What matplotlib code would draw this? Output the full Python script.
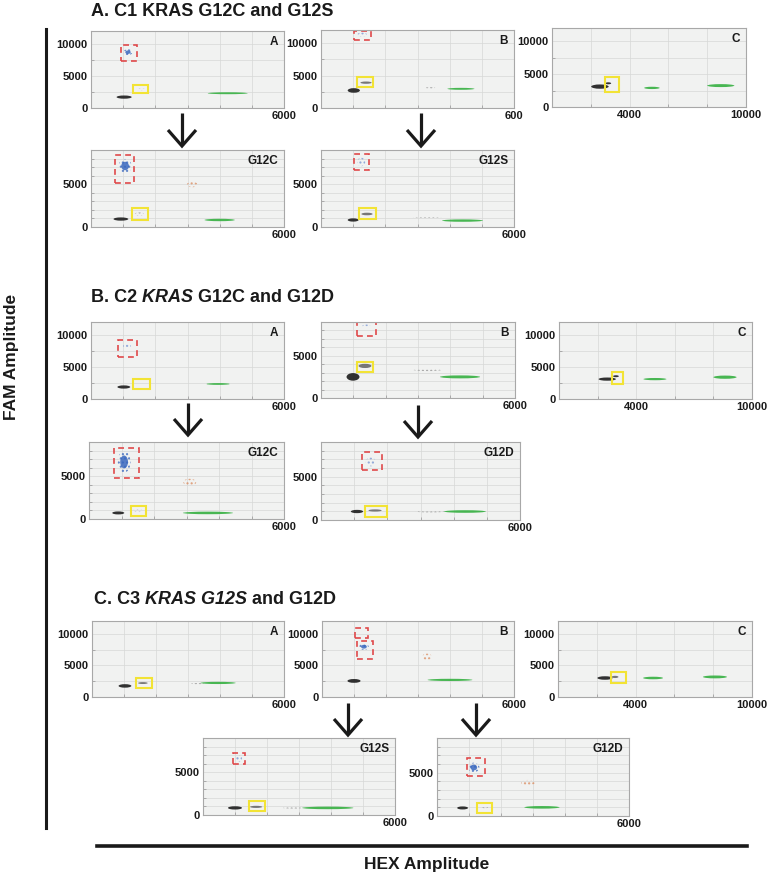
import matplotlib
matplotlib.use('Agg')
import matplotlib.pyplot as plt
from matplotlib.patches import Ellipse, Rectangle
from matplotlib.lines import Line2D
from matplotlib.ticker import MultipleLocator

plt.rcParams['font.family'] = ['Liberation Sans', 'DejaVu Sans']
plt.rcParams['hatch.linewidth'] = 1.0

W, H = 771, 876

# droplet clusters: (HEX amplitude, FAM amplitude, HEX spread, FAM spread, kind)
# kinds: neg = double negative, hex = HEX+ (wild type), fam = FAM+ (mutant),
#        dbl = FAM+/HEX+, rain / fam_rain / dbl_rain = scattered droplets
c1_a = [(1030, 1700, 470, 500, 'neg'), (1150, 8700, 280, 900, 'fam'),
        (4250, 2300, 1240, 300, 'hex'), (1550, 2900, 300, 300, 'rain')]
c1_b = [(1020, 2700, 380, 700, 'neg'), (1400, 3900, 350, 350, 'dbl'),
        (4350, 2950, 840, 300, 'hex'), (3400, 3100, 300, 200, 'rain'),
        (1280, 11300, 300, 600, 'fam_rain')]
c1_c = [(2470, 3100, 900, 650, 'neg'), (2900, 3600, 300, 300, 'neg'),
        (5150, 2900, 800, 350, 'hex'), (8700, 3250, 1400, 450, 'hex')]
c1_g12c = [(930, 930, 460, 380, 'neg'), (1060, 7130, 400, 1650, 'fam'),
           (4000, 820, 940, 280, 'hex'), (3150, 4950, 350, 600, 'dbl_rain'),
           (1500, 1500, 300, 400, 'rain')]
c1_g12s = [(1000, 820, 340, 380, 'neg'), (1430, 1520, 350, 300, 'dbl'),
           (3300, 1050, 900, 200, 'rain'), (4400, 750, 1270, 280, 'hex'),
           (1250, 7600, 250, 1000, 'fam_rain')]

c2_a = [(1020, 1870, 400, 500, 'neg'), (1120, 8250, 250, 500, 'fam_rain'),
        (3950, 2340, 720, 280, 'hex')]
c2_b = [(990, 2500, 400, 900, 'neg'), (1360, 3800, 400, 500, 'dbl'),
        (3300, 3340, 900, 300, 'rain'), (4300, 2500, 1240, 350, 'hex'),
        (1400, 8500, 250, 400, 'fam_rain')]
c2_c = [(2500, 3100, 900, 500, 'neg'), (2950, 3550, 300, 300, 'neg'),
        (4970, 3100, 1190, 350, 'hex'), (8600, 3400, 1200, 500, 'hex')]
c2_g12c = [(900, 710, 370, 350, 'neg'), (1080, 6670, 400, 2500, 'fam'),
           (3660, 710, 1540, 300, 'hex'), (3100, 4300, 400, 800, 'dbl_rain'),
           (1500, 1000, 300, 300, 'rain')]
c2_g12d = [(1085, 980, 370, 380, 'neg'), (1630, 1100, 400, 250, 'dbl'),
           (1500, 6700, 300, 1000, 'fam_rain'), (3300, 980, 900, 200, 'rain'),
           (4340, 980, 1260, 300, 'hex')]

c3_a = [(1030, 1750, 400, 550, 'neg'), (1590, 2200, 300, 300, 'dbl'),
        (3940, 2220, 1100, 350, 'hex'), (3300, 2100, 400, 200, 'rain')]
c3_b = [(1000, 2540, 410, 600, 'neg'), (1310, 7940, 300, 1000, 'fam'),
        (4000, 2700, 1400, 350, 'hex'), (3280, 6350, 300, 1000, 'dbl_rain')]
c3_c = [(2420, 3000, 780, 550, 'neg'), (2940, 3170, 350, 350, 'dbl'),
        (4900, 3000, 1030, 400, 'hex'), (8090, 3170, 1240, 450, 'hex')]
c3_g12s = [(1000, 830, 440, 380, 'neg'), (1660, 950, 380, 250, 'dbl'),
           (2800, 830, 600, 150, 'rain'), (3900, 830, 1600, 300, 'hex'),
           (1120, 6600, 200, 800, 'fam_rain')]
c3_g12d = [(800, 930, 340, 350, 'neg'), (1150, 5600, 350, 1100, 'fam'),
           (2850, 3860, 450, 600, 'dbl_rain'), (3280, 1000, 1100, 300, 'hex'),
           (1500, 1000, 200, 200, 'rain')]

# gates drawn by the analyst: (HEX low, HEX high, FAM low, FAM high, kind)
g1_a = [(930, 1430, 7300, 9800, 'fam'), (1300, 1770, 2300, 3600, 'dbl')]
g1_b = [(1020, 1550, 10500, 11900, 'fam'), (1120, 1610, 3300, 4800, 'dbl')]
g1_c = [(2730, 3450, 2300, 4600, 'dbl')]
g1_g12c = [(750, 1340, 5140, 8400, 'fam'), (1270, 1770, 820, 2200, 'dbl')]
g1_g12s = [(1020, 1490, 6660, 8530, 'fam'), (1180, 1710, 930, 2220, 'dbl')]
g2_a = [(840, 1430, 6540, 9190, 'fam'), (1310, 1830, 1560, 3100, 'dbl')]
g2_b = [(1110, 1700, 7380, 8950, 'fam'), (1110, 1610, 3100, 4300, 'dbl')]
g2_c = [(2750, 3320, 2340, 4200, 'dbl')]
g2_g12c = [(770, 1540, 4760, 8330, 'fam'), (1290, 1750, 360, 1550, 'dbl')]
g2_g12d = [(1235, 1840, 5730, 7800, 'fam'), (1330, 1990, 370, 1580, 'dbl')]
g3_a = [(1380, 1880, 1430, 3000, 'dbl')]
g3_b = [(1030, 1440, 9370, 10950, 'fam'), (1100, 1600, 6030, 8890, 'fam')]
g3_c = [(2730, 3500, 2220, 3970, 'dbl')]
g3_g12s = [(940, 1310, 5960, 7250, 'fam'), (1440, 1940, 480, 1670, 'dbl')]
g3_g12d = [(930, 1490, 4580, 6680, 'fam'), (1240, 1730, 350, 1520, 'dbl')]

hex_ticks_6000 = [6000]
hex_ticks_10000 = [4000, 10000]
fam_ticks_12000 = [0, 5000, 10000]
fam_ticks_9000 = [0, 5000]

colors = {'neg': '#1c1c1c', 'hex': '#35b041', 'fam': '#3a68bf', 'dbl': '#6a6a6a',
          'rain': '#8c8c8c', 'dbl_rain': '#d98556', 'fam_rain': '#6f8fd0'}

fig = plt.figure(figsize=(W / 100, H / 100), dpi=100)


def draw_panel(clusters, gates, label, box, xmax, ymax, xlabels=None):
    l, t, r, b = box
    ax = fig.add_axes([l / W, 1 - b / H, (r - l) / W, (b - t) / H])
    ax.set_facecolor('#f1f2f1')
    ax.set_xlim(0, xmax)
    ax.set_ylim(0, ymax)
    xt = hex_ticks_6000 if xmax == 6000 else hex_ticks_10000
    ax.set_xticks(xt)
    ax.set_xticklabels(xlabels if xlabels else [str(v) for v in xt])
    ax.set_yticks(fam_ticks_12000 if ymax == 12000 else fam_ticks_9000)
    ax.xaxis.set_minor_locator(MultipleLocator(1000 if xmax == 6000 else 2000))
    ax.yaxis.set_minor_locator(MultipleLocator(2500 if ymax == 12000 else 1000))
    ax.grid(which='both', color='#d6d8d6', lw=0.5)
    ax.set_axisbelow(True)
    ax.tick_params(which='major', length=0, labelsize=8, pad=2.5, colors='#1a1a1a')
    ax.tick_params(which='minor', length=2, direction='in', color='#a0a0a0')
    for lab in ax.get_xticklabels() + ax.get_yticklabels():
        lab.set_fontweight('bold')
    for s in ax.spines.values():
        s.set_color('#a8a8a8')
        s.set_linewidth(0.8)

    for x, y, w, h, kind in clusters:
        c = colors[kind]
        if kind.endswith('rain'):
            ax.add_patch(Ellipse((x, y), w, h, facecolor='none', edgecolor=c,
                                 hatch='....', lw=0, alpha=0.7))
        elif kind == 'fam':
            ax.add_patch(Ellipse((x, y), w, h, facecolor='none', edgecolor=c,
                                 hatch='....', lw=0, alpha=0.8))
            ax.add_patch(Ellipse((x, y), w * 0.6, h * 0.6, facecolor=c,
                                 edgecolor='none', alpha=0.85))
        else:
            ax.add_patch(Ellipse((x, y), w, h, facecolor=c, edgecolor='none', alpha=0.9))

    for x0, x1, y0, y1, kind in gates:
        if kind == 'fam':
            ax.add_patch(Rectangle((x0, y0), x1 - x0, y1 - y0, fill=False,
                                   edgecolor='#e0494b', lw=1.2, linestyle=(0, (3.5, 2.5))))
        else:
            ax.add_patch(Rectangle((x0, y0), x1 - x0, y1 - y0, fill=False,
                                   edgecolor='#f2e335', lw=1.5))

    ax.text(0.97, 0.94, label, transform=ax.transAxes, ha='right', va='top',
            fontsize=8.5, fontweight='bold', color='#1a1a1a')
    return ax


def arrow(x, y0, y1):
    kw = dict(transform=fig.transFigure, color='#1a1a1a', lw=2.3,
              solid_joinstyle='miter', solid_capstyle='butt')
    fig.add_artist(Line2D([x / W, x / W], [1 - y0 / H, 1 - (y1 - 1) / H], **kw))
    fig.add_artist(Line2D([(x - 14) / W, x / W, (x + 14) / W],
                          [1 - (y1 - 16) / H, 1 - y1 / H, 1 - (y1 - 16) / H], **kw))


def title(x, y, parts):
    rend = fig.canvas.get_renderer()
    for s, st in parts:
        t = fig.text(x / W, 1 - y / H, s, fontsize=13, fontweight='bold', style=st,
                     va='center', ha='left', color='#1a1a1a')
        x += t.get_window_extent(rend).width


# section A
title(91, 11, [('A. C1 KRAS G12C and G12S', 'normal')])
draw_panel(c1_a, g1_a, 'A', (91, 31, 284, 108), 6000, 12000)
draw_panel(c1_b, g1_b, 'B', (321, 30, 514, 108), 6000, 12000, ['600'])
draw_panel(c1_c, g1_c, 'C', (552, 28, 746, 107), 10000, 12000)
draw_panel(c1_g12c, g1_g12c, 'G12C', (91, 150, 284, 227), 6000, 9000)
draw_panel(c1_g12s, g1_g12s, 'G12S', (321, 150, 514, 227), 6000, 9000)
arrow(182, 113, 146)
arrow(421, 113, 146)

# section B
title(91, 298, [('B. C2', 'normal'), (' KRAS', 'italic'), (' G12C and G12D', 'normal')])
draw_panel(c2_a, g2_a, 'A', (91, 322, 284, 399), 6000, 12000)
draw_panel(c2_b, g2_b, 'B', (321, 322, 515, 398), 6000, 9000)
draw_panel(c2_c, g2_c, 'C', (559, 322, 752, 399), 10000, 12000)
draw_panel(c2_g12c, g2_g12c, 'G12C', (89, 442, 284, 519), 6000, 9000)
draw_panel(c2_g12d, g2_g12d, 'G12D', (321, 442, 520, 520), 6000, 9000)
arrow(188, 403, 435)
arrow(418, 405, 437)

# section C
title(94, 600, [('C. C3', 'normal'), (' KRAS', 'italic'), (' G12S', 'italic'),
                (' and G12D', 'normal')])
draw_panel(c3_a, g3_a, 'A', (92, 621, 284, 697), 6000, 12000)
draw_panel(c3_b, g3_b, 'B', (322, 621, 514, 697), 6000, 12000)
draw_panel(c3_c, g3_c, 'C', (558, 621, 752, 697), 10000, 12000)
draw_panel(c3_g12s, g3_g12s, 'G12S', (203, 738, 395, 815), 6000, 9000)
draw_panel(c3_g12d, g3_g12d, 'G12D', (437, 738, 629, 816), 6000, 9000)
arrow(348, 703, 735)
arrow(476, 703, 735)

# shared axis lines and labels
fig.add_artist(Line2D([46 / W, 46 / W], [1 - 29 / H, 1 - 828 / H],
                      transform=fig.transFigure, color='#1a1a1a', lw=2.2))
fig.add_artist(Line2D([97 / W, 747 / W], [1 - 846 / H, 1 - 846 / H],
                      transform=fig.transFigure, color='#1a1a1a', lw=2.6))
fig.text(12 / W, 1 - 357 / H, 'FAM Amplitude', rotation=90, ha='center', va='center',
         fontsize=12.5, fontweight='bold', color='#1a1a1a')
fig.text(427 / W, 1 - 864 / H, 'HEX Amplitude', ha='center', va='center',
         fontsize=12.5, fontweight='bold', color='#1a1a1a')

fig.savefig('out.png', dpi=100)
